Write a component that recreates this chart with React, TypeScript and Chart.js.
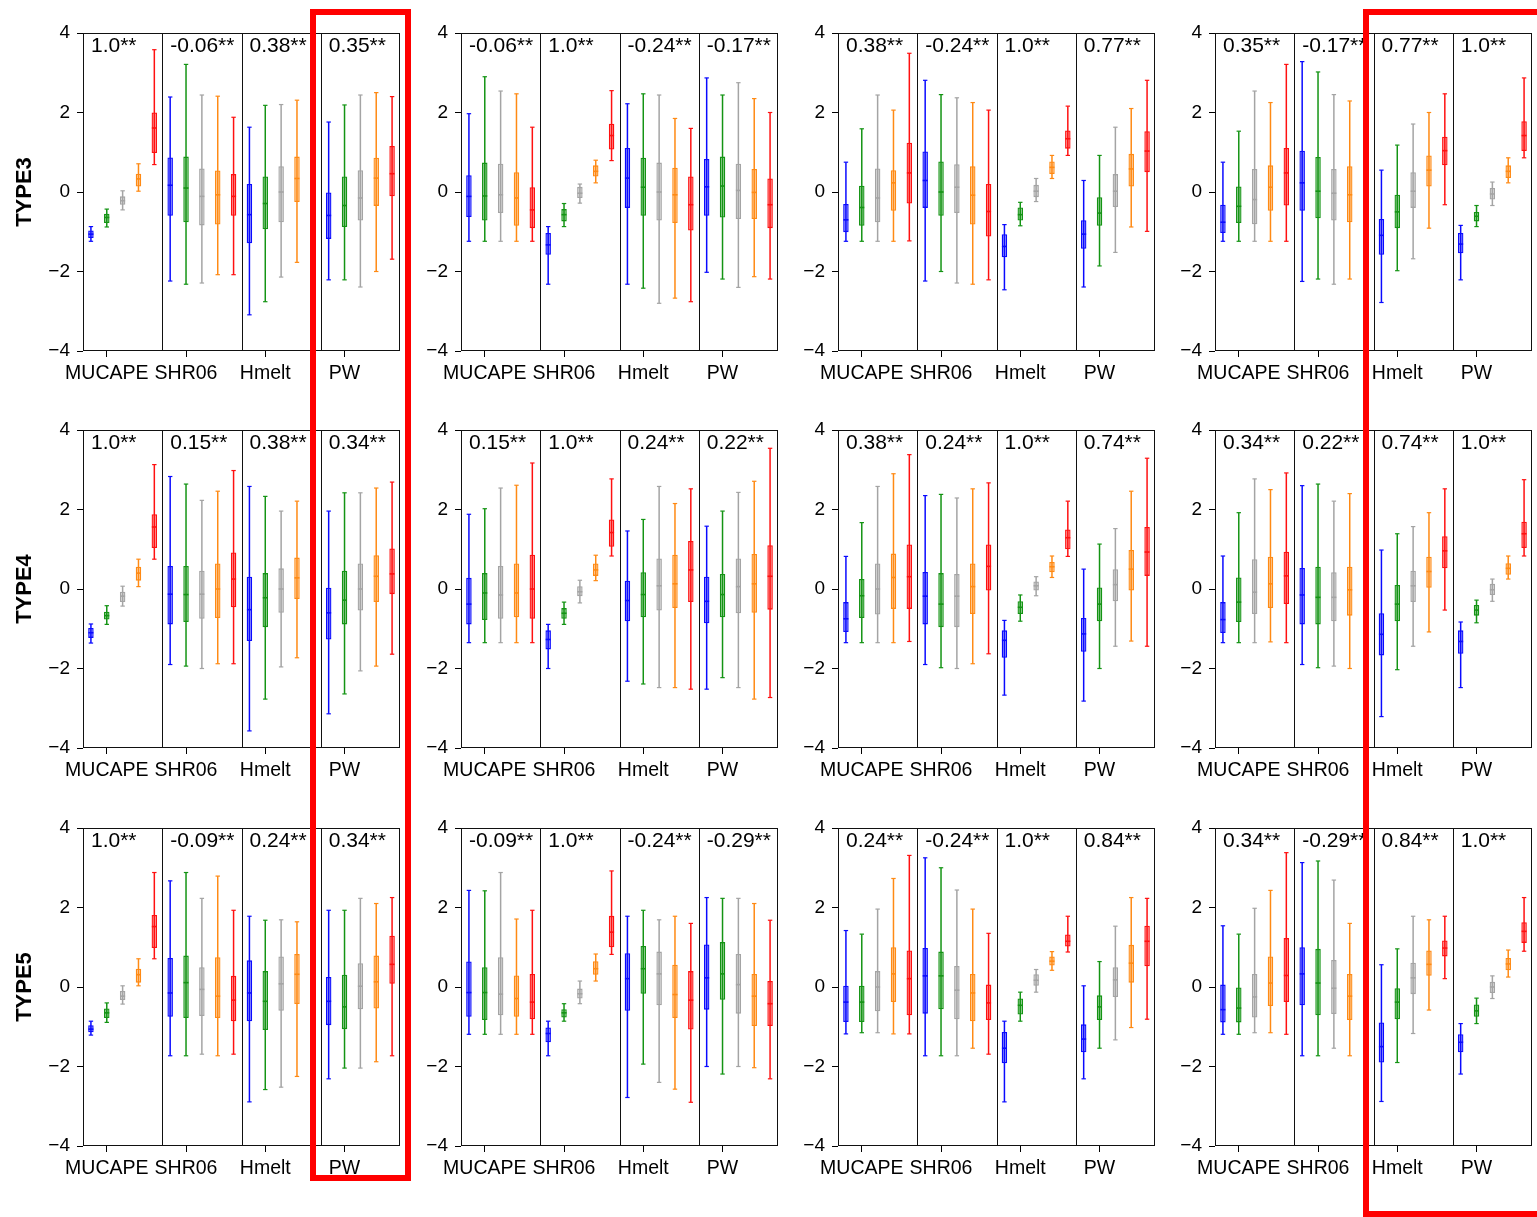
import React, { useEffect, useRef } from "react";
import { Chart, registerables } from "chart.js";
Chart.register(...registerables);

type Box = [number, number, number, number, number] | null; // [min, q1, median, q3, max]

const GROUPS = ["MUCAPE", "SHR06", "Hmelt", "PW"];
const ROW_LABELS = ["TYPE3", "TYPE4", "TYPE5"];
const COLORS = ["#0a0aff", "#149414", "#a4a4a4", "#ff8a14", "#ff1010"];
const Y_TICKS = [-4, -2, 0, 2, 4];

// ---------- TYPE3 ----------
const TYPE3_MUCAPE: Box[][] = [
  [[-1.24, -1.16, -1.06, -0.97, -0.87], [-0.88, -0.78, -0.64, -0.55, -0.43], [-0.45, -0.32, -0.22, -0.11, 0.03], [0.02, 0.14, 0.33, 0.46, 0.71], [0.69, 0.98, 1.61, 2.0, 3.58]],
  [[-2.24, -0.6, 0.17, 0.87, 2.39], [-2.32, -0.76, 0.1, 0.89, 3.21], [-2.29, -0.84, -0.11, 0.59, 2.44], [-2.08, -0.82, -0.07, 0.54, 2.41], [-2.08, -0.6, -0.11, 0.45, 1.88]],
  [[-3.09, -1.29, -0.57, 0.2, 1.63], [-2.76, -0.94, -0.29, 0.39, 2.18], [-2.14, -0.76, 0, 0.65, 2.2], [-1.77, -0.25, 0.34, 0.89, 2.31], null],
  [[-2.21, -1.18, -0.59, 0, 1.76], [-2.21, -0.88, -0.34, 0.39, 2.19], [-2.39, -0.72, -0.15, 0.55, 2.44], [-2.0, -0.35, 0.35, 0.86, 2.5], [-1.69, -0.11, 0.46, 1.16, 2.4]],
];
const TYPE3_SHR06: Box[][] = [
  [[-1.24, -0.63, -0.11, 0.42, 1.97], [-1.24, -0.72, -0.1, 0.74, 2.9], [-1.24, -0.53, -0.07, 0.71, 2.54], [-1.24, -0.85, -0.15, 0.5, 2.47], [-1.24, -0.91, -0.45, 0.12, 1.63]],
  [[-2.32, -1.58, -1.33, -1.03, -0.87], [-0.87, -0.74, -0.57, -0.43, -0.29], [-0.28, -0.15, -0.03, 0.13, 0.2], [0.23, 0.39, 0.52, 0.67, 0.8], [0.79, 1.07, 1.42, 1.72, 2.55]],
  [[-2.32, -0.4, 0.35, 1.11, 2.22], [-2.42, -0.6, 0.12, 0.86, 2.47], [-2.8, -0.72, 0, 0.74, 2.44], [-2.67, -0.78, -0.07, 0.61, 1.85], [-2.76, -0.97, -0.32, 0.39, 1.6]],
  [[-2.02, -0.6, 0.13, 0.83, 2.87], [-2.19, -0.64, 0.15, 0.89, 2.44], [-2.4, -0.68, 0.04, 0.71, 2.75], [-2.13, -0.68, -0.01, 0.58, 2.35], [-2.19, -0.91, -0.32, 0.34, 2.0]],
];
const TYPE3_HMELT: Box[][] = [
  [[-1.24, -1.01, -0.7, -0.3, 0.75], [-1.24, -0.85, -0.39, 0.16, 1.59], [-1.24, -0.76, -0.15, 0.59, 2.44], [-1.24, -0.47, 0.23, 0.55, 2.06], [-1.23, -0.29, 0.48, 1.24, 3.49]],
  [[-2.24, -0.4, 0.29, 1.02, 2.81], [-2.0, -0.6, 0.0, 0.77, 2.45], [-2.29, -0.53, 0.12, 0.7, 2.37], [-2.32, -0.82, -0.08, 0.65, 2.25], [-2.21, -1.12, -0.49, 0.2, 2.06]],
  [[-2.46, -1.64, -1.37, -1.06, -0.82], [-0.85, -0.72, -0.57, -0.39, -0.26], [-0.24, -0.13, 0.02, 0.18, 0.34], [0.34, 0.45, 0.62, 0.77, 0.92], [0.92, 1.09, 1.34, 1.55, 2.16]],
  [[-2.39, -1.43, -1.06, -0.71, 0.29], [-1.86, -0.85, -0.53, -0.13, 0.92], [-1.52, -0.38, 0.02, 0.45, 1.63], [-0.88, 0.14, 0.58, 0.96, 2.1], [-0.99, 0.5, 1.03, 1.53, 2.81]],
];
const TYPE3_PW: Box[][] = [
  [[-1.24, -1.03, -0.76, -0.32, 0.75], [-1.24, -0.78, -0.36, 0.14, 1.53], [-1.24, -0.81, -0.19, 0.58, 2.54], [-1.24, -0.47, 0.12, 0.67, 2.25], [-1.24, -0.34, 0.48, 1.11, 3.21]],
  [[-2.25, -0.47, 0.23, 1.04, 3.28], [-2.19, -0.66, 0.02, 0.88, 3.02], [-2.32, -0.72, -0.03, 0.58, 2.45], [-2.19, -0.76, -0.07, 0.65, 2.29], null],
  [[-2.78, -1.58, -1.09, -0.68, 0.55], [-1.98, -0.91, -0.5, -0.07, 1.18], [-1.68, -0.4, 0.02, 0.5, 1.71], [-0.91, 0.14, 0.55, 0.92, 2.0], [-0.32, 0.67, 1.04, 1.39, 2.47]],
  [[-2.21, -1.54, -1.31, -1.03, -0.84], [-0.87, -0.74, -0.61, -0.5, -0.34], [-0.34, -0.19, -0.05, 0.1, 0.25], [0.23, 0.35, 0.52, 0.67, 0.86], [0.86, 1.03, 1.42, 1.78, 2.87]],
];

// ---------- TYPE4 ----------
const TYPE4_MUCAPE: Box[][] = [
  [[-1.36, -1.23, -1.1, -0.98, -0.88], [-0.89, -0.77, -0.67, -0.57, -0.42], [-0.43, -0.33, -0.18, -0.07, 0.07], [0.06, 0.21, 0.4, 0.56, 0.75], [0.75, 1.03, 1.56, 1.88, 3.13]],
  [[-1.9, -0.89, -0.13, 0.58, 2.83], [-1.94, -0.83, -0.14, 0.58, 2.64], [-2.0, -0.75, -0.13, 0.46, 2.23], [-1.88, -0.73, 0, 0.64, 2.46], [-1.88, -0.46, 0.25, 0.92, 2.98]],
  [[-3.57, -1.31, -0.52, 0.31, 2.58], [-2.77, -0.96, -0.22, 0.4, 2.33], [-1.96, -0.6, 0, 0.52, 1.96], [-1.73, -0.25, 0.28, 0.79, 2.21], null],
  [[-3.14, -1.27, -0.6, 0.03, 1.96], [-2.64, -0.89, -0.28, 0.46, 2.42], [-2.06, -0.54, 0, 0.64, 2.42], [-1.94, -0.33, 0.32, 0.85, 2.54], [-1.64, -0.13, 0.38, 1.02, 2.69]],
];
const TYPE4_SHR06: Box[][] = [
  [[-1.35, -0.89, -0.38, 0.28, 1.88], [-1.35, -0.78, -0.1, 0.4, 2.02], [-1.35, -0.75, -0.15, 0.58, 2.54], [-1.35, -0.71, -0.1, 0.64, 2.61], [-1.35, -0.75, 0, 0.86, 3.17]],
  [[-2.0, -1.52, -1.27, -1.04, -0.89], [-0.89, -0.75, -0.61, -0.48, -0.33], [-0.35, -0.18, -0.07, 0.07, 0.22], [0.21, 0.33, 0.48, 0.64, 0.85], [0.83, 1.06, 1.42, 1.75, 2.77]],
  [[-2.32, -0.81, -0.29, 0.21, 1.46], [-2.39, -0.71, -0.14, 0.42, 1.75], [-2.48, -0.54, 0.08, 0.77, 2.58], [-2.48, -0.48, 0.13, 0.86, 2.15], [-2.52, -0.33, 0.48, 1.21, 2.52]],
  [[-2.52, -0.86, -0.31, 0.31, 1.58], [-2.23, -0.71, -0.14, 0.38, 1.96], [-2.48, -0.61, 0.06, 0.77, 2.43], [-2.77, -0.6, 0.13, 0.88, 2.71], [-2.73, -0.52, 0.32, 1.1, 3.54]],
];
const TYPE4_HMELT: Box[][] = [
  [[-1.35, -1.08, -0.75, -0.33, 0.82], [-1.35, -0.73, -0.17, 0.25, 1.67], [-1.35, -0.64, 0, 0.64, 2.58], [-1.35, -0.5, 0.29, 0.89, 2.9], [-1.32, -0.5, 0.31, 1.12, 3.38]],
  [[-1.9, -0.89, -0.18, 0.43, 2.35], [-1.98, -0.96, -0.38, 0.4, 2.38], [-2.0, -0.96, -0.18, 0.38, 2.29], [-1.88, -0.63, 0.06, 0.64, 2.52], [-1.63, -0.04, 0.57, 1.12, 2.67]],
  [[-2.67, -1.73, -1.29, -1.04, -0.79], [-0.81, -0.63, -0.46, -0.31, -0.15], [-0.17, -0.04, 0.08, 0.19, 0.31], [0.29, 0.42, 0.56, 0.68, 0.83], [0.82, 1.0, 1.29, 1.5, 2.21]],
  [[-2.82, -1.58, -1.13, -0.73, 0.5], [-2.0, -0.81, -0.38, 0.04, 1.13], [-1.44, -0.31, 0.11, 0.5, 1.52], [-1.31, -0.04, 0.5, 0.98, 2.46], [-1.44, 0.33, 0.93, 1.56, 3.29]],
];
const TYPE4_PW: Box[][] = [
  [[-1.35, -1.11, -0.77, -0.33, 0.83], [-1.35, -0.83, -0.33, 0.29, 1.92], [-1.35, -0.63, -0.08, 0.75, 2.77], [-1.33, -0.48, 0.13, 0.81, 2.5], [-1.35, -0.38, 0.33, 0.94, 2.92]],
  [[-1.9, -0.89, -0.15, 0.53, 2.6], [-1.98, -0.89, -0.21, 0.56, 2.64], [-1.94, -0.81, -0.21, 0.42, 2.21], [-2.0, -0.67, -0.02, 0.56, 2.4], null],
  [[-3.21, -1.67, -1.14, -0.61, 0.98], [-2.03, -0.81, -0.38, 0.1, 1.39], [-1.44, -0.33, 0.08, 0.46, 1.57], [-1.08, 0.03, 0.44, 0.81, 1.92], [-0.53, 0.52, 0.96, 1.33, 2.52]],
  [[-2.48, -1.63, -1.32, -1.04, -0.83], [-0.85, -0.67, -0.53, -0.4, -0.28], [-0.31, -0.15, -0.02, 0.13, 0.25], [0.25, 0.36, 0.52, 0.65, 0.83], [0.83, 1.03, 1.39, 1.69, 2.75]],
];

// ---------- TYPE5 ----------
const TYPE5_MUCAPE: Box[][] = [
  [[-1.21, -1.14, -1.06, -0.96, -0.86], [-0.89, -0.78, -0.65, -0.54, -0.4], [-0.43, -0.33, -0.23, -0.1, 0.03], [0.03, 0.11, 0.31, 0.46, 0.71], [0.71, 0.98, 1.52, 1.81, 2.88]],
  [[-1.73, -0.75, -0.15, 0.73, 2.67], [-1.73, -0.78, 0.11, 0.79, 2.88], [-1.69, -0.73, -0.06, 0.5, 2.23], [-1.73, -0.78, -0.23, 0.75, 2.79], [-1.69, -0.86, -0.33, 0.28, 1.93]],
  [[-2.89, -0.86, -0.15, 0.67, 1.78], [-2.58, -1.08, -0.36, 0.4, 1.68], [-2.52, -0.6, 0.08, 0.77, 1.69], [-2.25, -0.43, 0.32, 0.83, 1.64], null],
  [[-2.31, -0.96, -0.36, 0.25, 1.93], [-2.04, -1.06, -0.5, 0.31, 1.93], [-2.04, -0.56, 0.02, 0.6, 2.23], [-1.88, -0.54, 0.13, 0.79, 2.1], [-1.73, 0.08, 0.57, 1.29, 2.25]],
];
const TYPE5_SHR06: Box[][] = [
  [[-1.19, -0.75, -0.14, 0.64, 2.43], [-1.19, -0.83, -0.14, 0.5, 2.42], [-1.19, -0.71, -0.18, 0.75, 2.88], [-1.19, -0.75, -0.29, 0.29, 1.71], [-1.19, -0.81, -0.38, 0.33, 1.93]],
  [[-1.73, -1.39, -1.17, -1.02, -0.86], [-0.86, -0.77, -0.65, -0.56, -0.42], [-0.42, -0.29, -0.17, -0.04, 0.15], [0.15, 0.31, 0.46, 0.65, 0.83], [0.82, 1.0, 1.38, 1.79, 2.92]],
  [[-2.78, -0.6, 0.21, 0.85, 1.78], [-1.94, -0.17, 0.46, 1.03, 1.93], [-2.4, -0.46, 0.33, 0.89, 1.69], [-2.57, -0.78, -0.19, 0.56, 1.78], [-2.9, -1.07, -0.33, 0.4, 1.6]],
  [[-2.0, -0.57, 0.23, 1.07, 2.25], [-2.19, -0.32, 0.33, 1.13, 2.23], [-2.0, -0.67, 0.06, 0.83, 2.23], [-2.03, -0.98, -0.23, 0.33, 2.1], [-2.31, -0.98, -0.42, 0.15, 1.68]],
];
const TYPE5_HMELT: Box[][] = [
  [[-1.18, -0.88, -0.38, 0.03, 1.42], [-1.15, -0.88, -0.38, 0.03, 1.33], [-1.15, -0.61, 0, 0.4, 1.96], [-1.18, -0.38, 0.33, 1.0, 2.73], [-1.18, -0.71, 0.21, 0.92, 3.31]],
  [[-1.73, -0.67, 0.28, 0.98, 3.25], [-1.73, -0.56, 0.28, 0.89, 3.0], [-1.73, -0.81, -0.08, 0.53, 2.44], [-1.54, -0.86, -0.15, 0.33, 1.96], [-1.69, -0.83, -0.4, 0.06, 1.35]],
  [[-2.89, -1.92, -1.54, -1.13, -0.86], [-0.86, -0.69, -0.46, -0.29, -0.13], [-0.13, 0.03, 0.17, 0.32, 0.44], [0.42, 0.54, 0.65, 0.77, 0.89], [0.88, 1.02, 1.15, 1.32, 1.78]],
  [[-2.31, -1.64, -1.31, -0.94, 0.03], [-1.54, -0.83, -0.5, -0.21, 0.64], [-1.33, -0.25, 0.18, 0.5, 1.53], [-1.02, 0.11, 0.6, 1.06, 2.25], [-0.81, 0.52, 1.15, 1.54, 2.23]],
];
const TYPE5_PW: Box[][] = [
  [[-1.19, -0.89, -0.57, 0.06, 1.54], [-1.19, -0.89, -0.53, 0, 1.33], [-1.15, -0.77, -0.25, 0.33, 1.98], [-1.15, -0.48, 0.1, 0.77, 2.43], [-1.19, -0.38, 0.29, 1.23, 3.38]],
  [[-1.73, -0.46, 0.33, 1.0, 3.13], [-1.73, -0.71, 0.1, 0.96, 3.17], [-1.54, -0.68, -0.03, 0.68, 2.69], [-1.73, -0.83, -0.23, 0.33, 1.6], null],
  [[-2.88, -1.9, -1.5, -0.89, 0.56], [-1.9, -0.81, -0.38, -0.03, 0.96], [-1.17, -0.18, 0.23, 0.61, 1.78], [-0.58, 0.28, 0.57, 0.92, 1.69], [0.21, 0.77, 0.98, 1.17, 1.78]],
  [[-2.19, -1.64, -1.39, -1.19, -0.92], [-0.92, -0.75, -0.6, -0.44, -0.28], [-0.29, -0.15, 0, 0.13, 0.28], [0.25, 0.42, 0.58, 0.73, 0.93], [0.9, 1.11, 1.4, 1.63, 2.25]],
];

// ---------- correlation labels ----------
const CORR_TYPE3 = [
  ["1.0**", "-0.06**", "0.38**", "0.35**"],
  ["-0.06**", "1.0**", "-0.24**", "-0.17**"],
  ["0.38**", "-0.24**", "1.0**", "0.77**"],
  ["0.35**", "-0.17**", "0.77**", "1.0**"],
];
const CORR_TYPE4 = [
  ["1.0**", "0.15**", "0.38**", "0.34**"],
  ["0.15**", "1.0**", "0.24**", "0.22**"],
  ["0.38**", "0.24**", "1.0**", "0.74**"],
  ["0.34**", "0.22**", "0.74**", "1.0**"],
];
const CORR_TYPE5 = [
  ["1.0**", "-0.09**", "0.24**", "0.34**"],
  ["-0.09**", "1.0**", "-0.24**", "-0.29**"],
  ["0.24**", "-0.24**", "1.0**", "0.84**"],
  ["0.34**", "-0.29**", "0.84**", "1.0**"],
];

const PANELS = [
  [TYPE3_MUCAPE, TYPE3_SHR06, TYPE3_HMELT, TYPE3_PW],
  [TYPE4_MUCAPE, TYPE4_SHR06, TYPE4_HMELT, TYPE4_PW],
  [TYPE5_MUCAPE, TYPE5_SHR06, TYPE5_HMELT, TYPE5_PW],
];
const CORRS = [CORR_TYPE3, CORR_TYPE4, CORR_TYPE5];

// ---------- layout ----------
const PLOT_LEFT = [83, 461, 838, 1215];
const PLOT_TOP = [33, 430, 828];
const PLOT_W = 317;
const PLOT_H = 318;
const PAD_L = 50;
const PAD_T = 24;
const PAD_R = 8;
const PAD_B = 45;
const FONT = '"Liberation Sans", Arial, Helvetica, sans-serif';

function rgba(hex: string, a: number) {
  const n = parseInt(hex.slice(1), 16);
  return `rgba(${(n >> 16) & 255},${(n >> 8) & 255},${n & 255},${a})`;
}

function Panel({ boxes, corr, left, top }: { boxes: Box[][]; corr: string[]; left: number; top: number }) {
  const ref = useRef<HTMLCanvasElement>(null);
  useEffect(() => {
    const medians: any[] = [];
    const boxDs: any[] = [];
    const whiskers: any[] = [];
    const caps: any[] = [];
    COLORS.forEach((color, j) => {
      const med: any[] = [];
      const bx: any[] = [];
      const wh: any[] = [];
      const cp: any[] = [];
      boxes.forEach((grp, i) => {
        const b = grp[j];
        if (!b) return;
        const x = i + 0.1 + 0.2 * j;
        med.push({ x, y: b[2] });
        bx.push({ x, y: [b[1], b[3]] });
        wh.push({ x, y: [b[0], b[4]] });
        cp.push({ x, y: b[0] });
        cp.push({ x, y: b[4] });
      });
      medians.push({
        type: "line", data: med, showLine: false, pointStyle: "line",
        pointRadius: 2.5, pointBorderWidth: 1.6, pointBorderColor: color, pointBackgroundColor: color,
      });
      boxDs.push({
        type: "bar", data: bx, grouped: false, maxBarThickness: 5.5,
        backgroundColor: rgba(color, 0.4), borderColor: color, borderWidth: 1.3, borderSkipped: false,
      });
      whiskers.push({
        type: "bar", data: wh, grouped: false, maxBarThickness: 1.5,
        backgroundColor: color, borderWidth: 0,
      });
      caps.push({
        type: "line", data: cp, showLine: false, pointStyle: "line",
        pointRadius: 2.2, pointBorderWidth: 1.2, pointBorderColor: color, pointBackgroundColor: color,
      });
    });

    const framePlugin = {
      id: "frame",
      afterDatasetsDraw(chart: any) {
        const { ctx, chartArea: a, scales } = chart;
        ctx.save();
        ctx.strokeStyle = "#111";
        ctx.lineWidth = 1;
        ctx.strokeRect(a.left + 0.5, a.top + 0.5, a.right - a.left - 1, a.bottom - a.top - 1);
        for (let i = 1; i < GROUPS.length; i++) {
          const x = Math.round(scales.x.getPixelForValue(i)) + 0.5;
          ctx.beginPath();
          ctx.moveTo(x, a.top);
          ctx.lineTo(x, a.bottom);
          ctx.stroke();
        }
        ctx.fillStyle = "#000";
        ctx.font = `21px ${FONT}`;
        ctx.textBaseline = "top";
        ctx.textAlign = "left";
        corr.forEach((t, i) => {
          ctx.fillText(t, scales.x.getPixelForValue(i) + 8, a.top + 3);
        });
        ctx.restore();
      },
    };

    const chart = new Chart(ref.current as HTMLCanvasElement, {
      type: "bar",
      data: { datasets: [...medians, ...boxDs, ...whiskers, ...caps] as any },
      options: {
        animation: false,
        responsive: false,
        devicePixelRatio: 1,
        events: [],
        layout: { padding: { top: PAD_T, right: PAD_R, left: 0, bottom: 0 } },
        plugins: { legend: { display: false }, tooltip: { enabled: false } },
        scales: {
          x: {
            type: "linear",
            min: 0,
            max: 4,
            offset: false,
            afterBuildTicks: (s: any) => {
              s.ticks = GROUPS.map((_, i) => ({ value: i + 0.3 }));
            },
            afterFit: (s: any) => {
              s.height = PAD_B;
            },
            ticks: {
              autoSkip: false,
              maxRotation: 0,
              padding: 5,
              color: "#000",
              font: { family: FONT, size: 19.5 },
              callback: (_v: any, i: number) => GROUPS[i],
            },
            grid: { display: true, drawOnChartArea: false, drawTicks: true, tickLength: 6, color: "#000", offset: false },
            border: { display: false },
          },
          y: {
            type: "linear",
            min: -4,
            max: 4,
            afterBuildTicks: (s: any) => {
              s.ticks = Y_TICKS.map((v) => ({ value: v }));
            },
            afterFit: (s: any) => {
              s.width = PAD_L;
            },
            ticks: {
              padding: 7,
              color: "#000",
              font: { family: FONT, size: 19 },
              callback: (v: any) => String(v).replace("-", "\u2212"),
            },
            grid: { display: true, drawOnChartArea: false, drawTicks: true, tickLength: 6, color: "#000" },
            border: { display: false },
          },
        },
      } as any,
      plugins: [framePlugin],
    });
    return () => chart.destroy();
  }, [boxes, corr]);

  return (
    <canvas
      ref={ref}
      width={PAD_L + PLOT_W + PAD_R}
      height={PAD_T + PLOT_H + PAD_B}
      style={{ position: "absolute", left: left - PAD_L, top: top - PAD_T }}
    />
  );
}

export default function App() {
  return (
    <div
      style={{
        position: "absolute",
        left: 0,
        top: 0,
        width: 1537,
        height: 1217,
        overflow: "hidden",
        background: "#fff",
      }}
    >
      {PANELS.map((row, r) =>
        row.map((boxes, c) => (
          <Panel key={`${r}-${c}`} boxes={boxes} corr={CORRS[r][c]} left={PLOT_LEFT[c]} top={PLOT_TOP[r]} />
        ))
      )}
      {ROW_LABELS.map((t, r) => (
        <div
          key={t}
          style={{
            position: "absolute",
            left: 24,
            top: PLOT_TOP[r] + PLOT_H / 2,
            transform: "translate(-50%, -50%) rotate(-90deg)",
            font: `bold 22px ${FONT}`,
            whiteSpace: "nowrap",
            color: "#000",
          }}
        >
          {t}
        </div>
      ))}
      <div
        style={{
          position: "absolute",
          left: 310,
          top: 9,
          width: 101,
          height: 1172,
          border: "6px solid #ff0000",
          boxSizing: "border-box",
          pointerEvents: "none",
        }}
      />
      <div
        style={{
          position: "absolute",
          left: 1363,
          top: 9,
          width: 180,
          height: 1208,
          border: "6px solid #ff0000",
          boxSizing: "border-box",
          pointerEvents: "none",
        }}
      />
    </div>
  );
}
